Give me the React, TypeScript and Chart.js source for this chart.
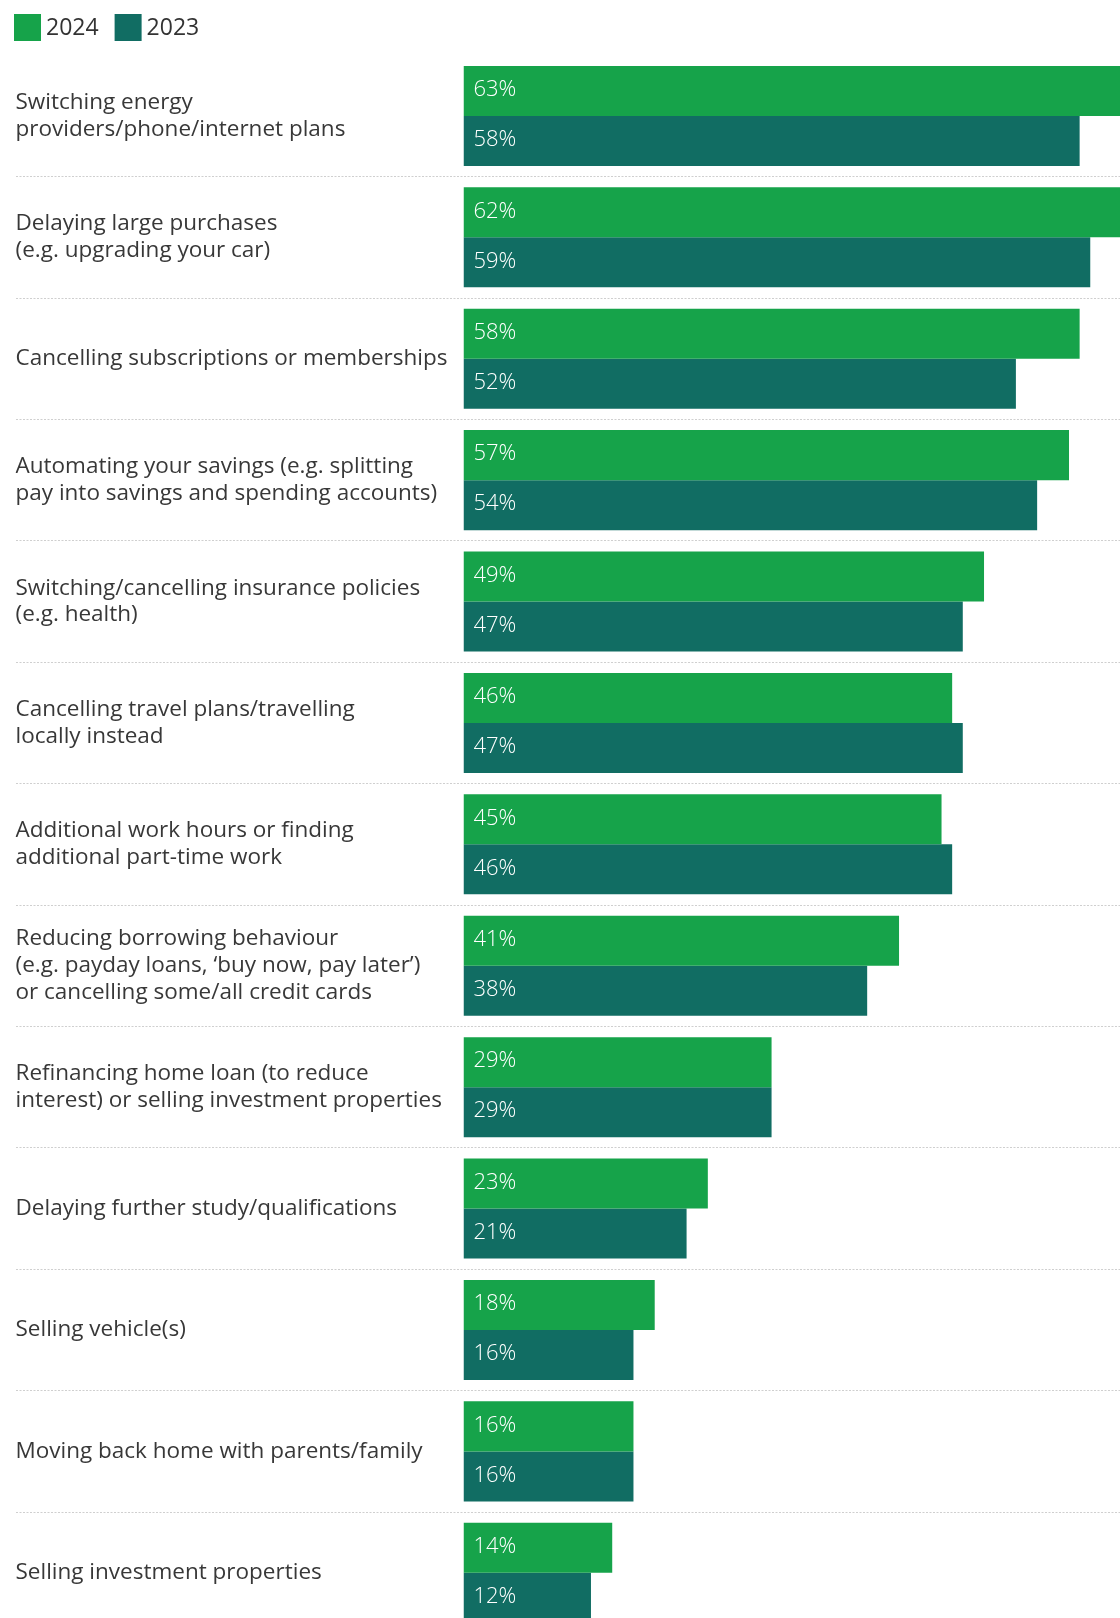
import React, { useEffect, useRef } from "react";
import { Chart, registerables } from "chart.js";

Chart.register(...registerables);

const categories: (string | string[])[] = [
  ["Switching energy", "providers/phone/internet plans"],
  ["Delaying large purchases", "(e.g. upgrading your car)"],
  "Cancelling subscriptions or memberships",
  ["Automating your savings (e.g. splitting", "pay into savings and spending accounts)"],
  ["Switching/cancelling insurance policies", "(e.g. health)"],
  ["Cancelling travel plans/travelling", "locally instead"],
  ["Additional work hours or finding", "additional part-time work"],
  ["Reducing borrowing behaviour", "(e.g. payday loans, \u2018buy now, pay later\u2019)", "or cancelling some/all credit cards"],
  ["Refinancing home loan (to reduce", "interest) or selling investment properties"],
  "Delaying further study/qualifications",
  "Selling vehicle(s)",
  "Moving back home with parents/family",
  "Selling investment properties",
];

const values2024 = [63, 62, 58, 57, 49, 46, 45, 41, 29, 23, 18, 16, 14];
const values2023 = [58, 59, 52, 54, 47, 47, 46, 38, 29, 21, 16, 16, 12];

const seriesNames = ["2024", "2023"];
const seriesColors = ["#16A34A", "#116D63"];

const FONT = "'Open Sans', 'Noto Sans', sans-serif";

const legendPlugin = {
  id: "customLegend",
  afterDraw(chart: any) {
    const ctx = chart.ctx;
    ctx.save();
    const items = chart.data.datasets;
    let x = 14;
    const y = 14;
    const size = 27;
    ctx.font = `23px ${FONT}`;
    ctx.textBaseline = "middle";
    ctx.textAlign = "left";
    items.forEach((ds: any) => {
      ctx.fillStyle = ds.backgroundColor;
      ctx.fillRect(x, y, size, size);
      ctx.fillStyle = "#333333";
      ctx.fillText(ds.label, x + size + 5, y + size / 2 + 1);
      const w = ctx.measureText(ds.label).width;
      x += size + 5 + w + 16;
    });
    ctx.restore();
  },
};

const valueLabelPlugin = {
  id: "valueLabels",
  afterDatasetsDraw(chart: any) {
    const ctx = chart.ctx;
    ctx.save();
    ctx.font = `300 22px ${FONT}`;
    ctx.fillStyle = "#ffffff";
    ctx.textBaseline = "middle";
    ctx.textAlign = "left";
    chart.data.datasets.forEach((ds: any, di: number) => {
      const meta = chart.getDatasetMeta(di);
      meta.data.forEach((bar: any, i: number) => {
        const v = ds.data[i];
        ctx.fillText(`${v}%`, bar.base + 10, bar.y - 1);
      });
    });
    ctx.restore();
  },
};

export default function App() {
  const canvasRef = useRef<HTMLCanvasElement | null>(null);

  useEffect(() => {
    if (!canvasRef.current) return;
    const chart = new Chart(canvasRef.current, {
      type: "bar",
      data: {
        labels: categories,
        datasets: [
          {
            label: seriesNames[0],
            data: values2024,
            backgroundColor: seriesColors[0],
            barPercentage: 1,
            categoryPercentage: 0.824,
          },
          {
            label: seriesNames[1],
            data: values2023,
            backgroundColor: seriesColors[1],
            barPercentage: 1,
            categoryPercentage: 0.824,
          },
        ],
      },
      options: {
        indexAxis: "y",
        responsive: false,
        animation: false,
        devicePixelRatio: 1,
        layout: { padding: { left: 15.5, top: 55.2, right: 0, bottom: 0.5 } },
        plugins: {
          legend: { display: false },
          tooltip: { enabled: false },
        },
        scales: {
          x: {
            display: false,
            min: 0,
            max: 61.8,
            grid: { display: false },
          },
          y: {
            type: "category",
            offset: true,
            border: { display: false, dash: [2, 1.5] },
            grid: {
              offset: true,
              drawOnChartArea: true,
              drawTicks: true,
              tickLength: 447.5,
              color: (c: any) => (c.index === 0 ? "rgba(0,0,0,0)" : "#cfcfcf"),
              tickColor: (c: any) => (c.index === 0 ? "rgba(0,0,0,0)" : "#cfcfcf"),
              tickBorderDash: [2, 1.5],
              lineWidth: 1,
            },
            ticks: {
              autoSkip: false,
              crossAlign: "far",
              padding: 0,
              color: "#383838",
              font: { family: FONT, size: 22.5, lineHeight: 1.19 },
            },
            afterFit: (scale: any) => {
              scale.width = 448;
              scale.paddingTop = 0;
              scale.paddingBottom = 0;
            },
          },
        },
      },
      plugins: [legendPlugin, valueLabelPlugin],
    } as any);
    if ((document as any).fonts && (document as any).fonts.ready) {
      (document as any).fonts.ready.then(() => chart.update());
    }
    return () => chart.destroy();
  }, []);

  return (
    <div
      style={{
        position: "absolute",
        left: 0,
        top: 0,
        width: 1120,
        height: 1618,
        overflow: "hidden",
        background: "#ffffff",
      }}
    >
      <canvas ref={canvasRef} width={1120} height={1634} style={{ display: "block", width: 1120, height: 1634 }} />
    </div>
  );
}
